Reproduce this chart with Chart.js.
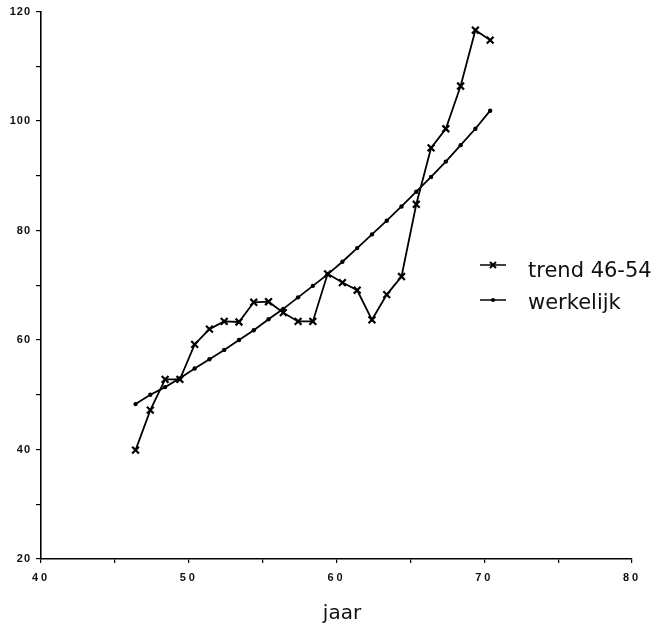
<!DOCTYPE html>
<html>
<head>
<meta charset="utf-8">
<script src="https://cdn.jsdelivr.net/npm/chart.js@4/dist/chart.umd.min.js"></script>
<style>
  html, body { margin: 0; padding: 0; background: #fff; }
  #wrap { width: 667px; height: 625px; position: relative; }
</style>
</head>
<body>
<div id="wrap"><canvas id="c" width="667" height="625"></canvas></div>
<script>
// ---- data ----
const years = [46.4, 47.4, 48.4, 49.4, 50.4, 51.4, 52.4, 53.4, 54.4, 55.4, 56.4, 57.4, 58.4,
               59.4, 60.4, 61.4, 62.4, 63.4, 64.4, 65.4, 66.4, 67.4, 68.4, 69.4, 70.4];
const trendValues = [39.9, 47.2, 52.8, 52.8, 59.2, 62.0, 63.4, 63.3, 66.9, 67.0, 65.0, 63.4, 63.4,
                     72.1, 70.5, 69.1, 63.7, 68.3, 71.6, 84.8, 95.1, 98.6, 106.4, 116.6, 114.8];
const werkelijkValues = [48.3, 50.0, 51.4, 53.0, 54.8, 56.5, 58.2, 60.0, 61.8, 63.8, 65.7, 67.8, 69.9,
                         72.0, 74.3, 76.8, 79.3, 81.8, 84.4, 87.1, 89.8, 92.6, 95.6, 98.6, 101.9];
const seriesNames = ['trend 46-54', 'werkelijk'];
const xTickLabels = [40, 50, 60, 70, 80];
const yTickLabels = [20, 40, 60, 80, 100, 120];
const xTitle = 'jaar';

const toPoints = (xs, ys) => xs.map((x, i) => ({ x: x, y: ys[i] }));

// draw tick labels of a scale with letter spacing
function spaceLabels(scale, spacing) {
  if (scale._spacedPatched) return;
  scale._spacedPatched = true;
  const orig = scale.drawLabels;
  scale.drawLabels = function (area) {
    const ctx = this.ctx;
    ctx.save();
    ctx.letterSpacing = spacing;
    orig.call(this, area);
    ctx.restore();
  };
}

const legendPlugin = {
  id: 'innerLegend',
  afterDraw(chart) {
    const ctx = chart.ctx;
    ctx.save();
    const rows = [
      { name: seriesNames[0], lineY: 265, textY: 277, style: 'cross' },
      { name: seriesNames[1], lineY: 300, textY: 309, style: 'dot' }
    ];
    rows.forEach(r => {
      ctx.strokeStyle = '#000';
      ctx.fillStyle = '#000';
      ctx.lineWidth = 1.5;
      ctx.beginPath();
      ctx.moveTo(480, r.lineY);
      ctx.lineTo(506, r.lineY);
      ctx.stroke();
      if (r.style === 'cross') {
        ctx.lineWidth = 2;
        ctx.beginPath();
        ctx.moveTo(490, r.lineY - 3); ctx.lineTo(496, r.lineY + 3);
        ctx.moveTo(496, r.lineY - 3); ctx.lineTo(490, r.lineY + 3);
        ctx.stroke();
      } else {
        ctx.beginPath();
        ctx.arc(493, r.lineY, 2, 0, Math.PI * 2);
        ctx.fill();
      }
      ctx.font = '21px "DejaVu Sans"';
      ctx.textBaseline = 'alphabetic';
      ctx.textAlign = 'left';
      ctx.fillStyle = '#111';
      ctx.fillText(r.name, 528, r.textY);
    });
    // axis title
    ctx.font = '20px "DejaVu Sans"';
    ctx.textAlign = 'center';
    ctx.textBaseline = 'alphabetic';
    ctx.fillStyle = '#111';
    ctx.fillText(xTitle, 342, 619);
    ctx.restore();
  }
};

const bgPlugin = {
  id: 'bg',
  beforeDraw(chart) {
    const ctx = chart.ctx;
    ctx.save();
    ctx.fillStyle = '#fff';
    ctx.fillRect(0, 0, chart.width, chart.height);
    ctx.restore();
  }
};

new Chart(document.getElementById('c'), {
  type: 'scatter',
  data: {
    datasets: [
      {
        label: seriesNames[0],
        data: toPoints(years, trendValues),
        showLine: true,
        borderColor: '#000',
        backgroundColor: '#000',
        borderWidth: 1.8,
        pointStyle: 'crossRot',
        pointRadius: 4.8,
        pointBorderWidth: 2.2,
        pointBorderColor: '#000',
        tension: 0
      },
      {
        label: seriesNames[1],
        data: toPoints(years, werkelijkValues),
        showLine: true,
        borderColor: '#000',
        backgroundColor: '#000',
        borderWidth: 1.8,
        pointStyle: 'circle',
        pointRadius: 2.2,
        pointBorderWidth: 0,
        pointBackgroundColor: '#000',
        tension: 0
      }
    ]
  },
  options: {
    responsive: false,
    animation: false,
    devicePixelRatio: 1,
    layout: { padding: { top: 10, right: 35, left: 0, bottom: 0 } },
    plugins: {
      legend: { display: false },
      tooltip: { enabled: false }
    },
    scales: {
      x: {
        type: 'linear',
        min: 40, max: 80,
        afterFit(scale) { scale.height = 66; spaceLabels(scale, '3px'); },
        ticks: {
          stepSize: 5,
          autoSkip: false,
          maxRotation: 0,
          padding: 8,
          color: '#111',
          font: { family: '"Liberation Sans", Arial, sans-serif', size: 11, weight: 'bold' },
          callback: v => (xTickLabels.includes(v) ? String(v) : '')
        },
        grid: { drawOnChartArea: false, drawTicks: true, tickLength: 4, color: '#000', lineWidth: 1.2 },
        border: { color: '#000', width: 1.6 },
        title: { display: false }
      },
      y: {
        type: 'linear',
        min: 20, max: 120,
        afterFit(scale) { scale.width = 41; spaceLabels(scale, '1px'); },
        ticks: {
          stepSize: 10,
          autoSkip: false,
          padding: 5,
          color: '#111',
          font: { family: '"Liberation Sans", Arial, sans-serif', size: 11, weight: 'bold' },
          callback: v => (yTickLabels.includes(v) ? String(v) : '')
        },
        grid: { drawOnChartArea: false, drawTicks: true, tickLength: 5, color: '#000', lineWidth: 1.2 },
        border: { color: '#000', width: 1.6 }
      }
    }
  },
  plugins: [bgPlugin, legendPlugin]
});
</script>
</body>
</html>
